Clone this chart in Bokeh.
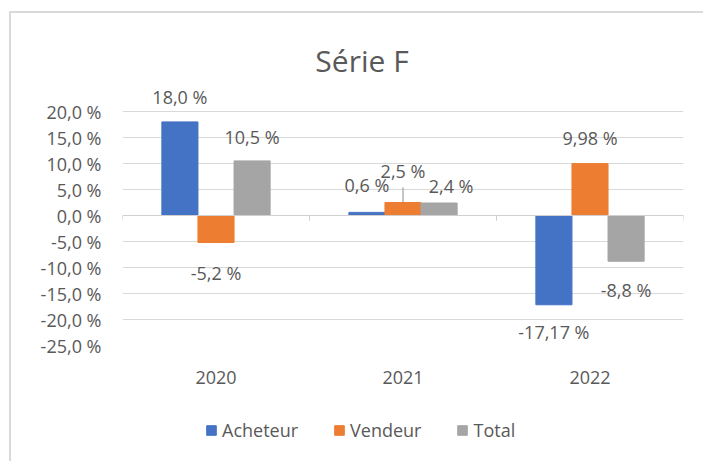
from bokeh.plotting import figure
from bokeh.layouts import column
from bokeh.models import (ColumnDataSource, FactorRange, LabelSet, Label, Span, FixedTicker,
                          Range1d, Legend, LegendItem)
from bokeh.transform import dodge
from bokeh.embed import file_html
from bokeh.resources import INLINE
from bokeh.core.properties import value

# ---------------- data ----------------
years = ["2020", "2021", "2022"]
series_names = ["Acheteur", "Vendeur", "Total"]
acheteur = [18.0, 0.6, -17.17]
vendeur = [-5.2, 2.5, 9.98]
total = [10.5, 2.4, -8.8]
acheteur_labels = ["18,0 %", "0,6 %", "-17,17 %"]
vendeur_labels = ["-5,2 %", "2,5 %", "9,98 %"]
total_labels = ["10,5 %", "2,4 %", "-8,8 %"]
y_ticks = [-25, -20, -15, -10, -5, 0, 5, 10, 15, 20]
y_tick_labels = ["-25,0 %", "-20,0 %", "-15,0 %", "-10,0 %", "-5,0 %",
                 "0,0 %", "5,0 %", "10,0 %", "15,0 %", "20,0 %"]
title_text = "Série F"

# ---------------- style ----------------
colors = ["#4472C4", "#ED7D31", "#A5A5A5"]
text_color = "#595959"
font = "Open Sans"
bar_w = 0.193
offsets = [-bar_w, 0.0, bar_w]
# data-label offsets in pixels (x, y) per series, per year
label_dx = [[0, 0, 0], [0, 0, 0], [0, 12, 0]]
label_dy = [[25, 27, -27], [-30, 32, 26], [24, 17, -29]]

W = 692
frame_h = 332            # canvas top down to the -25 % line
main_h = 382
legend_h = 66
px_per_unit = 234 / 45.0
y_top = -25 + frame_h / px_per_unit

p = figure(x_range=FactorRange(*years), y_range=Range1d(-25, y_top),
           width=W, height=main_h, output_backend="svg", toolbar_location=None,
           title=None, min_border_left=111, min_border_right=20,
           min_border_top=0, min_border_bottom=main_h - frame_h)
p.outline_line_color = None
p.background_fill_color = "white"
p.border_fill_color = "white"

ticker = FixedTicker(ticks=y_ticks)
p.yaxis.ticker = ticker
p.ygrid.ticker = ticker
p.ygrid.grid_line_color = "#D9D9D9"
p.xgrid.grid_line_color = None
p.yaxis.major_label_overrides = {t: l for t, l in zip(y_ticks, y_tick_labels)}
for ax in (p.yaxis, p.xaxis):
    ax.axis_line_color = None
    ax.major_tick_line_color = None
    ax.minor_tick_line_color = None
    ax.major_label_text_font = font
    ax.major_label_text_font_size = "18px"
    ax.major_label_text_color = text_color
    ax.major_tick_out = 0
    ax.major_tick_in = 0
p.yaxis.major_label_standoff = 21
p.xaxis.major_label_standoff = 25

# category axis line at zero with tick marks at category boundaries
p.add_layout(Span(location=0, dimension="width", line_color="#D0D0D0", line_width=1))
bounds = list(range(len(years) + 1))
p.segment(x0=bounds, y0=[0] * len(bounds), x1=bounds, y1=[-1] * len(bounds),
          line_color="#D0D0D0", line_width=1)

all_vals = [acheteur, vendeur, total]
all_labels = [acheteur_labels, vendeur_labels, total_labels]
for i, name in enumerate(series_names):
    src = ColumnDataSource(dict(year=years, val=all_vals[i], label=all_labels[i],
                                dx=label_dx[i], dy=label_dy[i]))
    p.vbar(x=dodge("year", offsets[i], range=p.x_range), top="val", bottom=0,
           width=bar_w, fill_color=colors[i], line_color=colors[i], source=src)
    p.add_layout(LabelSet(x=dodge("year", offsets[i], range=p.x_range), y="val",
                          text="label", x_offset="dx", y_offset="dy", source=src,
                          text_align="center", text_baseline="middle",
                          text_font=value(font), text_font_size=value("18px"),
                          text_color=text_color))

# leader line for the Vendeur 2021 label
k = years.index("2021")
lx = k + 0.5 + offsets[1]
p.segment(x0=[lx], y0=[vendeur[k]], x1=[lx], y1=[vendeur[k] + 2.9],
          line_color="#8C8C8C", line_width=1)

# title
p.add_layout(Label(x=len(years) / 2, y=20, x_offset=-41, y_offset=51, text=title_text,
                   text_align="center", text_baseline="middle", text_font=font,
                   text_font_size="30px", text_color=text_color))

# ---------------- legend strip ----------------
q = figure(width=W, height=legend_h, output_backend="svg", toolbar_location=None,
           title=None, x_axis_type=None, y_axis_type=None,
           x_range=Range1d(0, 1), y_range=Range1d(0, 1),
           min_border_left=0, min_border_right=0, min_border_top=0, min_border_bottom=0)
q.outline_line_color = None
q.grid.grid_line_color = None
q.background_fill_color = "white"
q.border_fill_color = "white"
items = []
for i, name in enumerate(series_names):
    # swatch-only renderers, placed outside the visible range
    r = q.vbar(x=[-5], top=[-5], bottom=[-6], width=0.5,
               fill_color=colors[i], line_color=colors[i])
    items.append(LegendItem(label=name, renderers=[r]))
lg = Legend(items=items, orientation="horizontal", location=(83, 19))
lg.background_fill_alpha = 0
lg.border_line_color = None
lg.padding = 0
lg.margin = 0
lg.spacing = 35
lg.glyph_width = 12
lg.glyph_height = 12
lg.label_standoff = 5
lg.label_text_font = font
lg.label_text_font_size = "18px"
lg.label_text_color = text_color
q.add_layout(lg)

layout = column(p, q, spacing=0,
                styles={"margin-left": "9px", "margin-top": "11px",
                        "border-left": "2px solid #D9D9D9", "border-top": "2px solid #D9D9D9"})

open("out.html", "w").write(file_html(layout, INLINE))
